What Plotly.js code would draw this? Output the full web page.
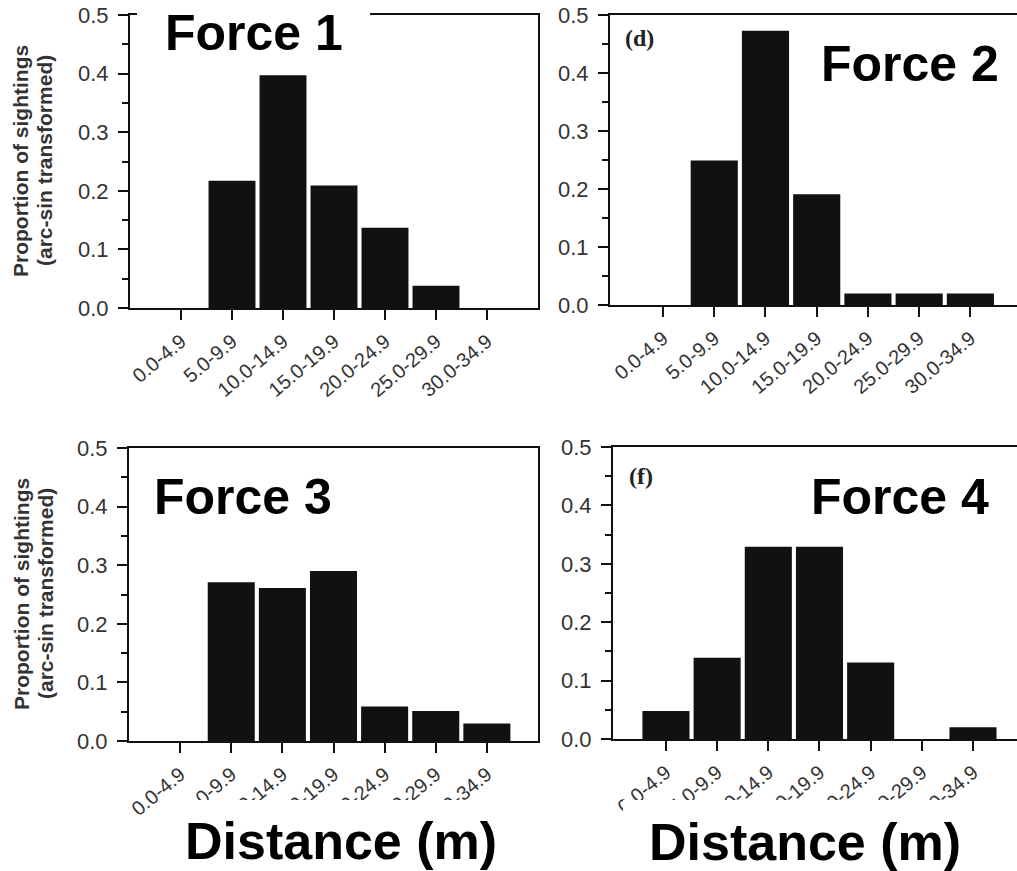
<!DOCTYPE html>
<html>
<head>
<meta charset="utf-8">
<script src="https://cdn.plot.ly/plotly-3.0.1.min.js"></script>
<style>html,body{margin:0;padding:0;background:#fff;}#chart{width:1017px;height:871px;}</style>
</head>
<body>
<div id="chart"></div>
<script>
// ---- data ----
var categories = ['0.0-4.9','5.0-9.9','10.0-14.9','15.0-19.9','20.0-24.9','25.0-29.9','30.0-34.9'];
var force1 = [0, 0.217, 0.397, 0.209, 0.137, 0.038, 0];
var force2 = [0, 0.249, 0.473, 0.191, 0.02, 0.02, 0.02];
var force3 = [0, 0.271, 0.261, 0.290, 0.059, 0.051, 0.030];
var force4 = [0.048, 0.139, 0.329, 0.329, 0.131, 0, 0.020];
var panelNames = ['Force 1','Force 2','Force 3','Force 4'];
var panelTags = ['', '(d)', '', '(f)'];
var yTitle1 = 'Proportion of sightings';
var yTitle2 = '(arc-sin transformed)';
var xTitle = 'Distance (m)';
var yTicks = [0, 0.1, 0.2, 0.3, 0.4, 0.5];
var yTickText = ['0.0','0.1','0.2','0.3','0.4','0.5'];

// ---- layout helpers ----
var W = 1017, H = 871;
function px(x){ return x / W; }
function py(y){ return 1 - y / H; }
var idx = categories.map(function(_, i){ return i; });
var series = [force1, force2, force3, force4];
var boxes = [
  {l:130, r:538, t:15,  b:308, xr:[-1.0, 7.0],   mirrorY:true},
  {l:610, r:1017, t:15, b:305, xr:[-1.035, 6.91], mirrorY:false},
  {l:129, r:538, t:448, b:741, xr:[-1.0, 7.0],   mirrorY:true},
  {l:613, r:1017, t:447, b:739, xr:[-1.035, 6.86], mirrorY:false}
];

var data = [];
var layout = {
  width: W, height: H,
  margin: {l:0, r:0, t:0, b:0},
  paper_bgcolor: '#fff', plot_bgcolor: '#fff',
  showlegend: false,
  bargap: 0.08,
  font: {family: 'Liberation Sans, Arial, sans-serif', color: '#222'},
  annotations: [],
  shapes: []
};

series.forEach(function(vals, i){
  var n = i === 0 ? '' : String(i + 1);
  data.push({
    type: 'bar', x: idx, y: vals,
    xaxis: 'x' + n, yaxis: 'y' + n,
    marker: {color: '#111', line: {width: 0}},
    hoverinfo: 'skip'
  });
  var b = boxes[i];
  layout['xaxis' + n] = {
    domain: [px(b.l), px(b.r)], anchor: 'y' + n,
    range: b.xr, tickmode: 'array', tickvals: idx, ticktext: categories,
    tickangle: -40, ticks: 'outside', ticklen: 10, tickwidth: 2, tickcolor: '#111',
    showline: true, linewidth: 2, linecolor: '#111', mirror: true,
    showgrid: false, zeroline: false, fixedrange: true,
    ticklabelstandoff: 2,
    tickfont: {size: 20, color: '#333'}
  };
  layout['yaxis' + n] = {
    domain: [py(b.b), py(b.t)], anchor: 'x' + n,
    range: [0, 0.5], tickmode: 'array', tickvals: yTicks, ticktext: yTickText,
    ticks: 'outside', ticklen: 10, tickwidth: 2, tickcolor: '#111',
    minor: {dtick: 0.05, ticks: 'outside', ticklen: 6, tickwidth: 2, tickcolor: '#111', showgrid: false},
    showline: true, linewidth: 2, linecolor: '#111', mirror: b.mirrorY,
    showgrid: false, zeroline: false, fixedrange: true,
    ticklabelstandoff: 5,
    tickfont: {size: 22, color: '#333'}
  };
});

// white cover boxes (label backgrounds in the reference)
layout.shapes.push({type:'rect', xref:'paper', yref:'paper', x0:px(137), x1:px(370), y0:py(54), y1:py(0),
  fillcolor:'#fff', line:{width:0}, layer:'above'});
layout.shapes.push({type:'rect', xref:'paper', yref:'paper', x0:px(178), x1:px(545), y0:py(871), y1:py(800),
  fillcolor:'#fff', line:{width:0}, layer:'above'});
layout.shapes.push({type:'rect', xref:'paper', yref:'paper', x0:px(623), x1:px(1017), y0:py(871), y1:py(800),
  fillcolor:'#fff', line:{width:0}, layer:'above'});

// panel names
var namePos = [[254, 32.5], [910, 64.5], [243, 496.5], [900, 496.5]];
panelNames.forEach(function(t, i){
  layout.annotations.push({text: t, xref:'paper', yref:'paper', x: px(namePos[i][0]), y: py(namePos[i][1]),
    xanchor:'center', yanchor:'middle', showarrow:false,
    font:{family:'Liberation Sans, Arial, sans-serif', size:50, color:'#000', weight:'bold'}});
});
// small panel tags
var tagPos = [null, [639, 38], null, [641, 476]];
panelTags.forEach(function(t, i){
  if (!t) return;
  layout.annotations.push({text: t, xref:'paper', yref:'paper', x: px(tagPos[i][0]), y: py(tagPos[i][1]),
    xanchor:'center', yanchor:'middle', showarrow:false,
    font:{family:'Liberation Serif, Times New Roman, serif', size:24, color:'#222', weight:'bold'}});
});
// y-axis titles (two lines, rotated)
[[161],[594]].forEach(function(p){
  layout.annotations.push({text: yTitle1, xref:'paper', yref:'paper', x: px(21), y: py(p[0]),
    xanchor:'center', yanchor:'middle', textangle:-90, showarrow:false,
    font:{size:21, color:'#333', weight:'bold'}});
  layout.annotations.push({text: yTitle2, xref:'paper', yref:'paper', x: px(45), y: py(p[0]),
    xanchor:'center', yanchor:'middle', textangle:-90, showarrow:false,
    font:{size:21, color:'#333', weight:'bold'}});
});
// x titles
[[341, 841], [805, 842]].forEach(function(p){
  layout.annotations.push({text: xTitle, xref:'paper', yref:'paper', x: px(p[0]), y: py(p[1]),
    xanchor:'center', yanchor:'middle', showarrow:false,
    font:{family:'Liberation Sans, Arial, sans-serif', size:52, color:'#000', weight:'bold'}});
});

Plotly.newPlot('chart', data, layout, {staticPlot: true, displayModeBar: false});
</script>
</body>
</html>
